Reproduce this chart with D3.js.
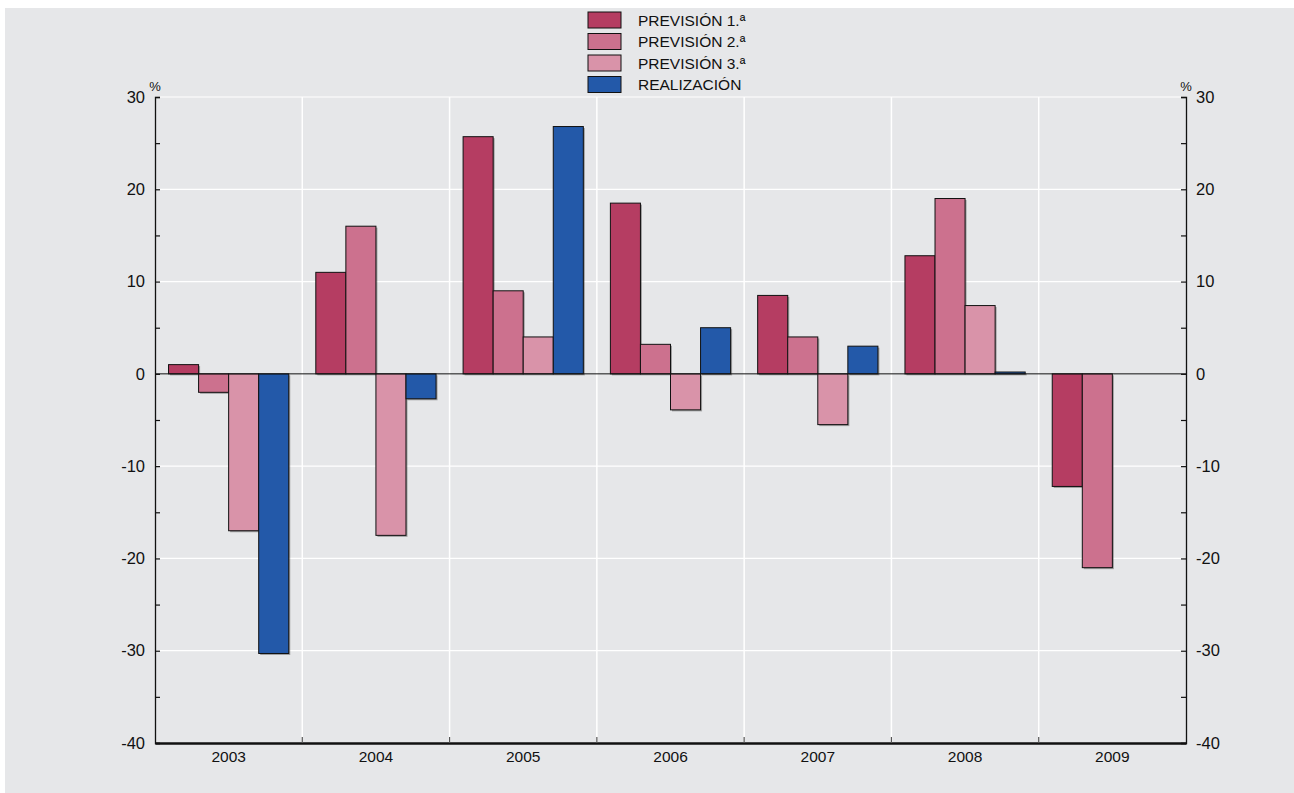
<!DOCTYPE html>
<html><head><meta charset="utf-8">
<script src="https://cdn.jsdelivr.net/npm/d3@7"></script>
<style>body{margin:0;background:#fff}svg{display:block}text{font-family:"Liberation Sans",Arial,Helvetica,sans-serif;fill:#111}</style>
</head><body><svg id="c" width="1294" height="793"></svg>
<script>
const years = ["2003","2004","2005","2006","2007","2008","2009"];
const seriesNames = ["PREVISIÓN 1.ª","PREVISIÓN 2.ª","PREVISIÓN 3.ª","REALIZACIÓN"];
const prevision1 = [1.0, 11.0, 25.7, 18.5, 8.5, 12.8, -12.2];
const prevision2 = [-2.0, 16.0, 9.0, 3.2, 4.0, 19.0, -21.0];
const prevision3 = [-17.0, -17.5, 4.0, -3.9, -5.5, 7.4, null];
const realizacion = [-30.3, -2.7, 26.8, 5.0, 3.0, 0.2, null];
const yTicks = [30,20,10,0,-10,-20,-30,-40];
const colors = ["#b53d62","#cc718e","#d993a9","#2359a9"];

const seriesValues = [prevision1, prevision2, prevision3, realizacion];
const svg = d3.select("#c");
svg.append("rect").attr("x",5).attr("y",8).attr("width",1289).attr("height",785).attr("fill","#e6e7e9");

const L=155, R=1186, T=97, B=743;
const x = d3.scaleBand().domain(years).range([L,R]).padding(0);
const xs = d3.scaleBand().domain(d3.range(4)).range([0,x.bandwidth()]).paddingOuter(0.45).paddingInner(0);
const y = d3.scaleLinear().domain([-40,30]).range([B,T]);

// horizontal gridlines
svg.append("g").selectAll("line").data(yTicks.filter(v=>v!==0 && v!==-40)).join("line")
  .attr("x1",L).attr("x2",R).attr("y1",d=>y(d)).attr("y2",d=>y(d))
  .attr("stroke","#fff").attr("stroke-width",1.2);
// vertical separators
svg.append("g").selectAll("line").data(years.slice(1)).join("line")
  .attr("x1",d=>x(d)).attr("x2",d=>x(d)).attr("y1",T).attr("y2",B)
  .attr("stroke","#fff").attr("stroke-width",1.5);

// bars
const bars = [];
years.forEach((yr,i)=>seriesValues.forEach((arr,s)=>{ if(arr[i]!==null) bars.push({yr,s,v:arr[i]}); }));
svg.append("g").selectAll("rect").data(bars).join("rect")
  .attr("x",d=>x(d.yr)+xs(d.s)+1.5).attr("width",xs.bandwidth())
  .attr("y",d=>y(Math.max(0,d.v))+1.5).attr("height",d=>Math.abs(y(d.v)-y(0)))
  .attr("fill","#555").attr("opacity",0.5);
svg.append("g").selectAll("rect").data(bars).join("rect")
  .attr("x",d=>x(d.yr)+xs(d.s)).attr("width",xs.bandwidth())
  .attr("y",d=>y(Math.max(0,d.v))).attr("height",d=>Math.abs(y(d.v)-y(0)))
  .attr("fill",d=>colors[d.s]).attr("stroke","#111").attr("stroke-width",1);

// zero line
svg.append("line").attr("x1",L).attr("x2",R).attr("y1",y(0)).attr("y2",y(0)).attr("stroke","#111").attr("stroke-width",1);

// axes
const minor = d3.range(-40,31,5);
const lAxis = svg.append("g").attr("transform",`translate(${L},0)`)
  .call(d3.axisRight(y).tickValues(minor).tickSize(5).tickFormat(""));
const rAxis = svg.append("g").attr("transform",`translate(${R},0)`)
  .call(d3.axisLeft(y).tickValues(minor).tickSize(5).tickFormat(""));
[lAxis,rAxis].forEach(a=>{a.select(".domain").attr("stroke","#111").attr("stroke-width",1.3);a.selectAll("line").attr("stroke","#111").attr("stroke-width",1.2);});
svg.append("g").selectAll("text").data(yTicks).join("text")
  .attr("x",L-10).attr("y",d=>y(d)).attr("dy","0.35em").attr("text-anchor","end")
  .style("font-size","16.5px").text(d=>d);
svg.append("g").selectAll("text").data(yTicks).join("text")
  .attr("x",R+10).attr("y",d=>y(d)).attr("dy","0.35em").attr("text-anchor","start")
  .style("font-size","16.5px").text(d=>d);
svg.append("text").attr("x",L).attr("y",T-6).attr("text-anchor","middle").style("font-size","13px").text("%");
svg.append("text").attr("x",R).attr("y",T-6).attr("text-anchor","middle").style("font-size","13px").text("%");

const bAxis = svg.append("g").attr("transform",`translate(0,${B})`)
  .call(d3.axisBottom(x).tickSize(0).tickPadding(8));
bAxis.select(".domain").attr("stroke","#111").attr("stroke-width",2.5);
bAxis.selectAll("text").style("font-size","15.5px").attr("fill","#111");
svg.append("g").selectAll("line").data(years.slice(1)).join("line")
  .attr("x1",d=>x(d)).attr("x2",d=>x(d)).attr("y1",B-6).attr("y2",B)
  .attr("stroke","#555").attr("stroke-width",1.2);

// legend
const lg = svg.append("g").attr("transform","translate(588,12)");
seriesNames.forEach((n,i)=>{
  const g = lg.append("g").attr("transform",`translate(0,${i*21.5})`);
  g.append("rect").attr("width",33).attr("height",16).attr("fill",colors[i]).attr("stroke","#111").attr("stroke-width",1);
  g.append("text").attr("x",50).attr("y",8).attr("dy","0.36em").style("font-size","15.5px").text(n);
});
</script></body></html>
